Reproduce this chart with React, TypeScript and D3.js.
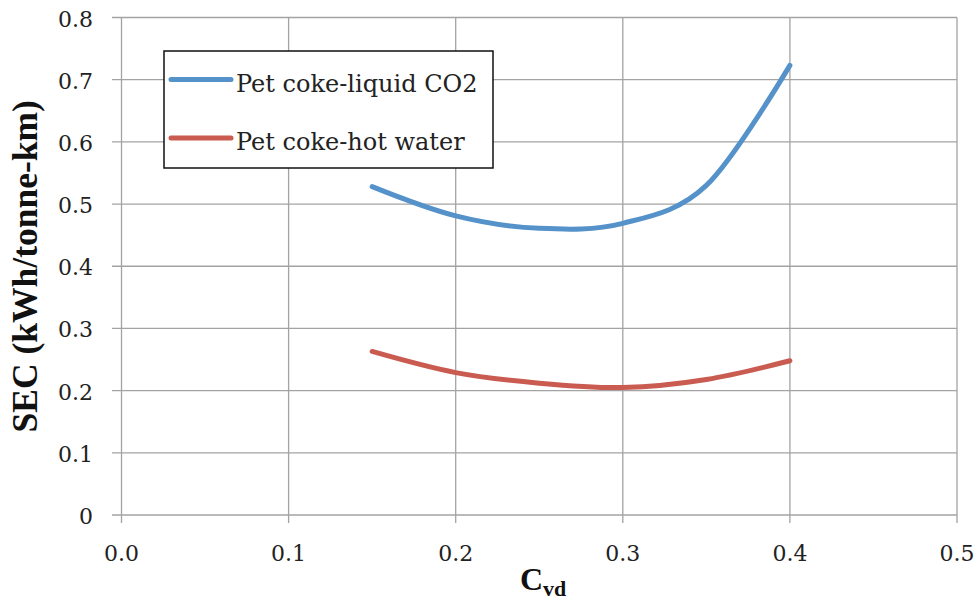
import React from "react";
import * as d3 from "d3";

const cvd = [0.15, 0.2, 0.25, 0.3, 0.35, 0.4];
const liquidCO2 = [0.528, 0.481, 0.461, 0.469, 0.53, 0.723];
const hotWater = [0.263, 0.229, 0.212, 0.205, 0.218, 0.248];
const xTicks = [0, 0.1, 0.2, 0.3, 0.4, 0.5];
const xTickLabels = ["0.0", "0.1", "0.2", "0.3", "0.4", "0.5"];
const yTicks = [0, 0.1, 0.2, 0.3, 0.4, 0.5, 0.6, 0.7, 0.8];
const yTickLabels = ["0", "0.1", "0.2", "0.3", "0.4", "0.5", "0.6", "0.7", "0.8"];
const seriesNames = ["Pet coke-liquid CO2", "Pet coke-hot water"];
const seriesColors = ["#5592ca", "#c95b51"];

const W = 978;
const H = 603;

export default function App() {
  const x = d3.scaleLinear().domain([0, 0.5]).range([121.5, 957]);
  const y = d3.scaleLinear().domain([0, 0.8]).range([515, 17.5]);
  const line = d3
    .line<[number, number]>()
    .x((d) => x(d[0]))
    .y((d) => y(d[1]))
    .curve(d3.curveCardinal.tension(0));
  const series = [liquidCO2, hotWater].map((vals) =>
    cvd.map((c, i) => [c, vals[i]] as [number, number])
  );
  const grid = "#a3a3a3";
  const tickFont = "'DejaVu Serif', serif";
  const legendY = [79.5, 138];
  return (
    <svg
      width={W}
      height={H}
      style={{ position: "absolute", left: 0, top: 0, display: "block", background: "#fff" }}
    >
      {yTicks.map((t) => (
        <line key={"h" + t} x1={112} x2={x(0.5)} y1={y(t)} y2={y(t)} stroke={grid} strokeWidth={1.3} />
      ))}
      {xTicks.map((t) => (
        <line key={"v" + t} x1={x(t)} x2={x(t)} y1={y(0.8)} y2={523} stroke={grid} strokeWidth={1.3} />
      ))}
      {yTicks.map((t, i) => (
        <text
          key={"yl" + t}
          x={93}
          y={y(t) + 9}
          textAnchor="end"
          fontFamily={tickFont}
          fontSize={22}
          fill="#222"
        >
          {yTickLabels[i]}
        </text>
      ))}
      {xTicks.map((t, i) => (
        <text
          key={"xl" + t}
          x={x(t)}
          y={561}
          textAnchor="middle"
          fontFamily={tickFont}
          fontSize={22}
          fill="#222"
        >
          {xTickLabels[i]}
        </text>
      ))}
      {series.map((s, i) => (
        <path
          key={"s" + i}
          d={line(s) || ""}
          fill="none"
          stroke={seriesColors[i]}
          strokeWidth={5}
          strokeLinecap="round"
          strokeLinejoin="round"
        />
      ))}
      <rect x={164} y={51} width={329} height={117} fill="#fff" stroke="#111" strokeWidth={1.5} />
      {seriesNames.map((n, i) => (
        <g key={"lg" + i}>
          <line
            x1={171}
            x2={231}
            y1={legendY[i]}
            y2={legendY[i]}
            stroke={seriesColors[i]}
            strokeWidth={5}
            strokeLinecap="round"
          />
          <text x={236} y={legendY[i] + 12} fontFamily={tickFont} fontSize={24} fill="#222">
            {n}
          </text>
        </g>
      ))}
      <text
        transform={`translate(37, ${(y(0) + y(0.8)) / 2}) rotate(-90)`}
        textAnchor="middle"
        fontFamily="'Liberation Serif', 'Times New Roman', serif"
        fontWeight="bold"
        fontSize={35.5}
        fill="#111"
      >
        SEC (kWh/tonne-km)
      </text>
      <text
        x={520}
        y={590}
        fontFamily="'Liberation Serif', 'Times New Roman', serif"
        fontWeight="bold"
        fontSize={32}
        fill="#111"
      >
        C
        <tspan fontSize={22} dy={6}>
          vd
        </tspan>
      </text>
    </svg>
  );
}
